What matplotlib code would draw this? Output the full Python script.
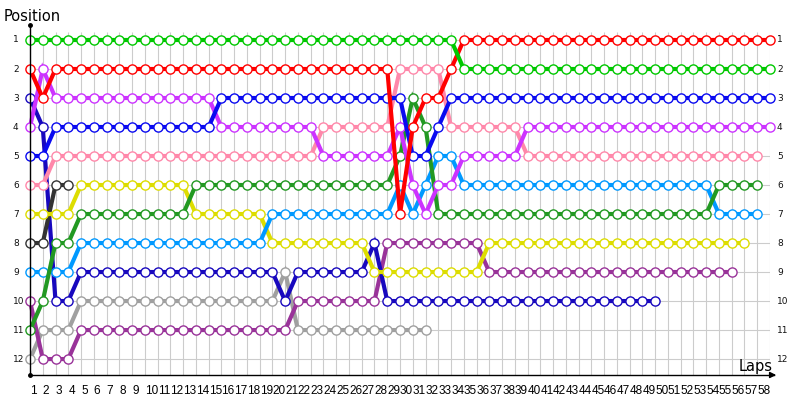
import numpy as np
import matplotlib.pyplot as plt

N = None

laps = list(range(59))  # lap 0 = grid
positions = list(range(1, 13))
lap_labels = [str(i) for i in range(1, 59)]

# position per lap (laps 0..58), None = retired
green = [1, 1, 1, 1, 1, 1, 1, 1, 1, 1,
         1, 1, 1, 1, 1, 1, 1, 1, 1, 1,
         1, 1, 1, 1, 1, 1, 1, 1, 1, 1,
         1, 1, 1, 1, 2, 2, 2, 2, 2, 2,
         2, 2, 2, 2, 2, 2, 2, 2, 2, 2,
         2, 2, 2, 2, 2, 2, 2, 2, 2]
red = [2, 3, 2, 2, 2, 2, 2, 2, 2, 2,
       2, 2, 2, 2, 2, 2, 2, 2, 2, 2,
       2, 2, 2, 2, 2, 2, 2, 2, 2, 7,
       4, 3, 3, 2, 1, 1, 1, 1, 1, 1,
       1, 1, 1, 1, 1, 1, 1, 1, 1, 1,
       1, 1, 1, 1, 1, 1, 1, 1, 1]
blue = [5, 5, 4, 4, 4, 4, 4, 4, 4, 4,
        4, 4, 4, 4, 4, 3, 3, 3, 3, 3,
        3, 3, 3, 3, 3, 3, 3, 3, 3, 3,
        5, 5, 4, 3, 3, 3, 3, 3, 3, 3,
        3, 3, 3, 3, 3, 3, 3, 3, 3, 3,
        3, 3, 3, 3, 3, 3, 3, 3, 3]
violet = [4, 2, 3, 3, 3, 3, 3, 3, 3, 3,
          3, 3, 3, 3, 3, 4, 4, 4, 4, 4,
          4, 4, 4, 5, 5, 5, 5, 5, 5, 4,
          6, 7, 6, 6, 5, 5, 5, 5, 5, 4,
          4, 4, 4, 4, 4, 4, 4, 4, 4, 4,
          4, 4, 4, 4, 4, 4, 4, 4, 4]
pink = [6, 6, 5, 5, 5, 5, 5, 5, 5, 5,
        5, 5, 5, 5, 5, 5, 5, 5, 5, 5,
        5, 5, 5, 4, 4, 4, 4, 4, 4, 2,
        2, 2, 2, 4, 4, 4, 4, 4, 4, 5,
        5, 5, 5, 5, 5, 5, 5, 5, 5, 5,
        5, 5, 5, 5, 5, 5, 5, 5, N]
navy = [3, 4, 10, 10, 9, 9, 9, 9, 9, 9,
        9, 9, 9, 9, 9, 9, 9, 9, 9, 9,
        10, 9, 9, 9, 9, 9, 9, 8, 10, 10,
        10, 10, 10, 10, 10, 10, 10, 10, 10, 10,
        10, 10, 10, 10, 10, 10, 10, 10, 10, 10,
        N, N, N, N, N, N, N, N, N]
yellow = [7, 7, 7, 7, 6, 6, 6, 6, 6, 6,
          6, 6, 6, 7, 7, 7, 7, 7, 7, 8,
          8, 8, 8, 8, 8, 8, 8, 9, 9, 9,
          9, 9, 9, 9, 9, 9, 8, 8, 8, 8,
          8, 8, 8, 8, 8, 8, 8, 8, 8, 8,
          8, 8, 8, 8, 8, 8, 8, N, N]
darkgray = [8, 8, 6, 6, N, N, N, N, N, N,
            N, N, N, N, N, N, N, N, N, N,
            N, N, N, N, N, N, N, N, N, N,
            N, N, N, N, N, N, N, N, N, N,
            N, N, N, N, N, N, N, N, N, N,
            N, N, N, N, N, N, N, N, N]
lightblue = [9, 9, 9, 9, 8, 8, 8, 8, 8, 8,
             8, 8, 8, 8, 8, 8, 8, 8, 8, 7,
             7, 7, 7, 7, 7, 7, 7, 7, 7, 6,
             7, 6, 5, 5, 6, 6, 6, 6, 6, 6,
             6, 6, 6, 6, 6, 6, 6, 6, 6, 6,
             6, 6, 6, 6, 7, 7, 7, 7, N]
darkgreen = [11, 10, 8, 8, 7, 7, 7, 7, 7, 7,
             7, 7, 7, 6, 6, 6, 6, 6, 6, 6,
             6, 6, 6, 6, 6, 6, 6, 6, 6, 5,
             3, 4, 7, 7, 7, 7, 7, 7, 7, 7,
             7, 7, 7, 7, 7, 7, 7, 7, 7, 7,
             7, 7, 7, 7, 6, 6, 6, 6, N]
gray = [12, 11, 11, 11, 10, 10, 10, 10, 10, 10,
        10, 10, 10, 10, 10, 10, 10, 10, 10, 10,
        9, 11, 11, 11, 11, 11, 11, 11, 11, 11,
        11, 11, N, N, N, N, N, N, N, N,
        N, N, N, N, N, N, N, N, N, N,
        N, N, N, N, N, N, N, N, N]
purple = [10, 12, 12, 12, 11, 11, 11, 11, 11, 11,
          11, 11, 11, 11, 11, 11, 11, 11, 11, 11,
          11, 10, 10, 10, 10, 10, 10, 10, 8, 8,
          8, 8, 8, 8, 8, 8, 9, 9, 9, 9,
          9, 9, 9, 9, 9, 9, 9, 9, 9, 9,
          9, 9, 9, 9, 9, 9, N, N, N]

series = [
    (gray, "#A0A0A0"),
    (purple, "#993399"),
    (navy, "#1808BE"),
    (darkgray, "#333333"),
    (yellow, "#DDDD00"),
    (lightblue, "#0099FF"),
    (darkgreen, "#229922"),
    (pink, "#FF88AA"),
    (violet, "#CC33FF"),
    (blue, "#0A0AF0"),
    (red, "#FF0000"),
    (green, "#00C800"),
]

fig = plt.figure(figsize=(8, 4), dpi=100)
ax = fig.add_axes([30 / 800, 25 / 400, 740 / 800, 350 / 400])
ax.set_xlim(0, 58)
ax.set_ylim(12.55, 0.483)
for s in ax.spines.values():
    s.set_visible(False)

# grid
ax.hlines(positions, 0, 58, color="#cccccc", lw=0.8, zorder=0)
ax.vlines(laps, 0.72, 12.55, color="#cccccc", lw=0.8, zorder=0)

for vals, col in series:
    y = np.array([np.nan if v is None else v for v in vals], dtype=float)
    ax.plot(laps, y, color=col, lw=3, marker='o', ms=6.6, mfc='white',
            mec=col, mew=1, clip_on=False, solid_joinstyle='miter')

# axes with dots and arrow
ax.plot([0, 0], [0.483, 12.55], color='black', lw=1, clip_on=False)
ax.plot([0, 58.3], [12.55, 12.55], color='black', lw=1, clip_on=False)
ax.plot([0, 0], [0.483, 12.55], 'ko', ms=2.5, clip_on=False)
ax.annotate('', xy=(58.7, 12.55), xytext=(57.9, 12.55),
            arrowprops=dict(arrowstyle='-|>', color='black', lw=1, mutation_scale=9),
            annotation_clip=False)

# position labels both sides
ytrans = ax.get_yaxis_transform()
for p in positions:
    ax.text(-17 / 740, p, str(p), transform=ytrans, ha='left', va='center',
            fontsize=6.5, family='DejaVu Sans', color='#111111')
    ax.text(1 + 7 / 740, p, str(p), transform=ytrans, ha='left', va='center',
            fontsize=6.5, family='DejaVu Sans', color='#111111')

ax.set_xticks(laps[:-1])
ax.set_xticklabels(lap_labels, ha='left', fontsize=8.5, family='Liberation Sans')
ax.tick_params(axis='x', length=0, pad=7)
ax.tick_params(axis='y', left=False, labelleft=False)

fig.text(4 / 800, 1 - 21 / 400, 'Position', fontsize=10.5, ha='left', va='baseline')
ax.text(58.2, 12.41, 'Laps', ha='right', va='baseline', fontsize=10.5)

fig.savefig('out.png', dpi=100)
